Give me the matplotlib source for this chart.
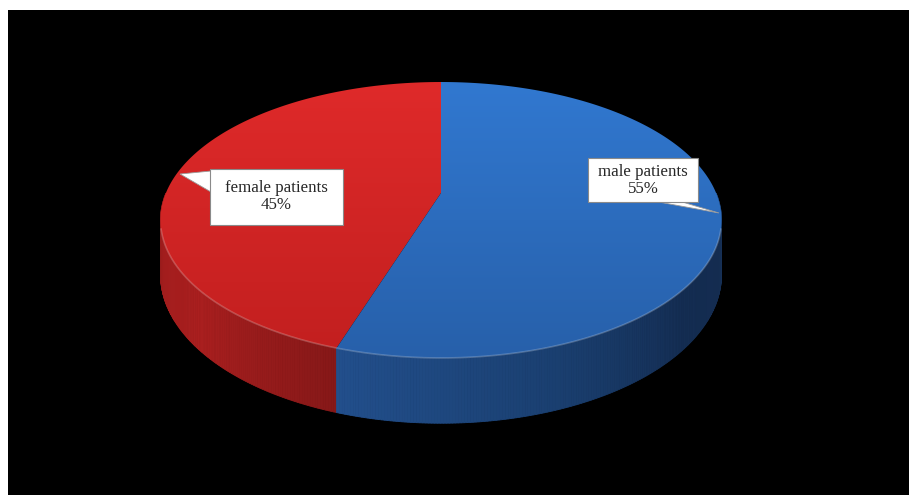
import numpy as np
import matplotlib
matplotlib.use("Agg")
import matplotlib.pyplot as plt
from matplotlib.patches import Polygon, Rectangle
from matplotlib.colors import to_rgb

# ---- data ----
categories = ["male patients", "female patients"]
values = [55, 45]
pct_labels = ["55%", "45%"]

# ---- geometry (pixel space, simple perspective view of a disc) ----
W, H = 909, 495
cx, cy = 441.0, 193.0      # projected centre of the disc
A, B, k = 275.1, 132.7, 0.1956
D = 52.5                   # thickness of the disc
start_angle = 90.0         # slices go counter-clockwise from 12 o'clock

top_colors = {"female patients": ("#df2a2a", "#c21f1f"),
              "male patients": ("#3178d0", "#2760aa")}
side_colors = {"female patients": [(180, "#7e1616"), (200, "#a21d1d"), (220, "#aa1f1f"), (252, "#861818")],
               "male patients": [(252, "#224f8c"), (290, "#1a3f70"), (320, "#142d52"), (340, "#142c50"), (360, "#1d3f6e")]}

fig = plt.figure(figsize=(W / 100, H / 100), dpi=100)
fig.patch.set_facecolor("white")
ax = fig.add_axes([0, 0, 1, 1])
ax.set_xlim(0, W)
ax.set_ylim(H, 0)
ax.axis("off")
ax.add_patch(Rectangle((8, 10), W, H, facecolor="black", edgecolor="none", zorder=0))


def pt(theta_deg, bottom=False):
    t = np.radians(theta_deg)
    u, v = np.cos(t), np.sin(t)
    w = 1.0 + k * v
    x = cx + A * u / w
    y = cy - B * v / w + (D / w if bottom else 0.0)
    return x, y


def interp_color(stops, ang):
    angs = [s[0] for s in stops]
    cols = np.array([to_rgb(s[1]) for s in stops])
    return tuple(np.interp(ang, angs, cols[:, i]) for i in range(3))


order = ["female patients", "male patients"]
vals = dict(zip(categories, values))
total = float(sum(values))
ranges = {}
ang = start_angle
for name in order:
    span = 360.0 * vals[name] / total
    ranges[name] = (ang, ang + span)
    ang += span

# ---- side walls (front half) ----
quads = []
for name in order:
    t0, t1 = ranges[name]
    lo, hi = max(t0, 180.0), min(t1, 360.0)
    if hi <= lo:
        continue
    steps = np.linspace(lo, hi, int((hi - lo) * 2) + 2)
    for s0, s1 in zip(steps[:-1], steps[1:]):
        quads.append((abs(0.5 * (s0 + s1) - 270.0), name, s0, s1))
quads.sort(key=lambda q: -q[0])
for _, name, s0, s1 in quads:
    c = interp_color(side_colors[name], 0.5 * (s0 + s1))
    ax.add_patch(Polygon([pt(s0), pt(s1), pt(s1, True), pt(s0, True)], closed=True,
                         facecolor=c, edgecolor=c, linewidth=0.6, zorder=2))

# ---- top surfaces with vertical gradient ----
allpts = np.array([pt(t) for t in np.linspace(0, 360, 721)])
x_lo, x_hi = allpts[:, 0].min(), allpts[:, 0].max()
y_lo, y_hi = allpts[:, 1].min(), allpts[:, 1].max()
yy = np.linspace(0, 1, 200)[:, None]
for name in order:
    t0, t1 = ranges[name]
    th = np.linspace(t0, t1, 400)
    pts = [(cx, cy)] + [pt(t) for t in th]
    poly = Polygon(pts, closed=True, facecolor="none", edgecolor="none", zorder=3)
    ax.add_patch(poly)
    c_top, c_bot = (np.array(to_rgb(c)) for c in top_colors[name])
    grad = c_top[None, None, :] * (1 - yy[:, :, None]) + c_bot[None, None, :] * yy[:, :, None]
    grad = np.repeat(grad, 2, axis=1)
    im = ax.imshow(grad, extent=(x_lo, x_hi, y_hi, y_lo), aspect="auto",
                   interpolation="bilinear", zorder=3)
    im.set_clip_path(poly)

ax.set_xlim(0, W)
ax.set_ylim(H, 0)

# highlight on the front rim
rim = np.array([pt(t) for t in np.linspace(195, 345, 300)])
ax.plot(rim[:, 0], rim[:, 1], color=(1, 1, 1, 0.22), linewidth=1.2, zorder=4)

# ---- callout labels ----
serif = ["Liberation Serif", "DejaVu Serif"]
fs = 12.2
tc = "#262626"

# female
fx0, fy0, fx1, fy1 = 210, 169, 343, 225
ax.add_patch(Polygon([(180, 174), (fx0 + 1, 171), (fx0 + 1, 192)], closed=True,
                     facecolor="white", edgecolor="#9a9a9a", linewidth=0.6, zorder=5))
ax.add_patch(Rectangle((fx0, fy0), fx1 - fx0, fy1 - fy0, facecolor="white",
                       edgecolor="#8a8a8a", linewidth=0.8, zorder=6))
ax.text((fx0 + fx1) / 2, 188, categories[1], ha="center", va="center",
        fontsize=fs, family=serif, color=tc, zorder=7)
ax.text((fx0 + fx1) / 2, 205, pct_labels[1], ha="center", va="center",
        fontsize=fs, family=serif, color=tc, zorder=7)

# male
mx0, my0, mx1, my1 = 588, 158, 698, 202
ax.add_patch(Polygon([(653, my1 - 1), (679, my1 - 1), (719, 213)], closed=True,
                     facecolor="white", edgecolor="#9a9a9a", linewidth=0.6, zorder=5))
ax.add_patch(Rectangle((mx0, my0), mx1 - mx0, my1 - my0, facecolor="white",
                       edgecolor="#8a8a8a", linewidth=0.8, zorder=6))
ax.text((mx0 + mx1) / 2, 172, categories[0], ha="center", va="center",
        fontsize=fs, family=serif, color=tc, zorder=7)
ax.text((mx0 + mx1) / 2, 189, pct_labels[0], ha="center", va="center",
        fontsize=fs, family=serif, color=tc, zorder=7)

fig.savefig("out.png", dpi=100, facecolor=fig.get_facecolor())
